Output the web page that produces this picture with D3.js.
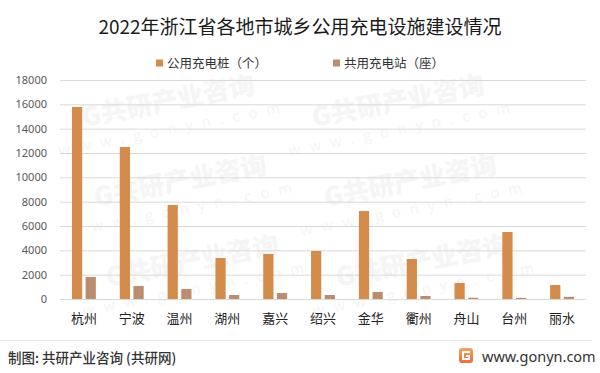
<!DOCTYPE html>
<html lang="zh">
<head>
<meta charset="UTF-8">
<script src="https://d3js.org/d3.v7.min.js"></script>
<title>2022年浙江省各地市城乡公用充电设施建设情况</title>
<style>
  body { margin: 0; background: #fff; font-family: "Noto Sans CJK SC", "Noto Sans", sans-serif; }
  svg { display: block; }
</style>
</head>
<body>
<svg id="chart" width="600" height="373"></svg>
<script>
// data
const cities = ["杭州", "宁波", "温州", "湖州", "嘉兴", "绍兴", "金华", "衢州", "舟山", "台州", "丽水"];
const piles = [15780, 12490, 7730, 3370, 3700, 3950, 7230, 3290, 1320, 5510, 1150];
const stations = [1810, 1070, 820, 330, 490, 330, 580, 250, 100, 90, 180];
const seriesNames = ["公用充电桩（个）", "共用充电站（座）"];
const seriesColors = ["#d48c4c", "#bb8d6e"];
const yTicks = [0, 2000, 4000, 6000, 8000, 10000, 12000, 14000, 16000, 18000];

const svg = d3.select("#chart");
const W = 600, H = 373;
const margin = { top: 80, right: 14, bottom: 74, left: 60 };
const innerW = W - margin.left - margin.right;
const innerH = H - margin.top - margin.bottom;

// faint watermarks in the background
const wm = svg.append("g").attr("fill", "#f5f5f5");
[170, 400].forEach(cx => {
  for (let r = 0; r < 3; r++) {
    const x = cx + r * 12, y = 110 + r * 80;
    const g = wm.append("g").attr("transform", `translate(${x},${y}) rotate(-11)`);
    g.append("text").attr("text-anchor", "middle").attr("font-size", 26)
      .attr("font-weight", 900).text("G共研产业咨询");
    g.append("text").attr("text-anchor", "middle").attr("y", 24).attr("font-size", 15)
      .attr("letter-spacing", 9).text("www.gonyn.com");
  }
});

// title
svg.append("text")
  .attr("x", W / 2).attr("y", 34)
  .attr("text-anchor", "middle")
  .attr("font-size", 19).attr("fill", "#1a1a1a")
  .text("2022年浙江省各地市城乡公用充电设施建设情况");

// legend
const legendX = [156, 333];
seriesNames.forEach((name, i) => {
  const lg = svg.append("g").attr("transform", `translate(${legendX[i]},59)`);
  lg.append("rect").attr("width", 7).attr("height", 7).attr("y", 0.5).attr("fill", seriesColors[i]);
  lg.append("text").attr("x", 11).attr("y", 8.5)
    .attr("font-size", 12.5).attr("fill", "#333").text(name);
});

const g = svg.append("g").attr("transform", `translate(${margin.left},${margin.top})`);

const x = d3.scaleBand().domain(cities).range([0, innerW]).paddingInner(0.5).paddingOuter(0.25);
const xs = d3.scaleBand().domain([0, 1]).range([0, x.bandwidth()]).paddingInner(0.25);
const y = d3.scaleLinear().domain([0, 18000]).range([innerH, 0]);

// gridlines + y labels
g.append("g")
  .call(d3.axisLeft(y).tickValues(yTicks).tickSize(-innerW).tickPadding(13).tickFormat(d3.format("d")))
  .call(a => a.select(".domain").remove())
  .call(a => a.selectAll(".tick line").attr("stroke", "#d9d9d9").attr("stroke-width", 1))
  .call(a => a.selectAll(".tick text").attr("font-size", 11).attr("fill", "#595959")
    .attr("font-family", "'Noto Sans', sans-serif"));

// bars
const rows = cities.map((c, i) => ({ city: c, vals: [piles[i], stations[i]] }));
const grp = g.selectAll(".grp").data(rows).join("g")
  .attr("transform", d => `translate(${x(d.city)},0)`);
grp.selectAll("rect").data(d => d.vals).join("rect")
  .attr("x", (d, i) => xs(i))
  .attr("width", xs.bandwidth())
  .attr("y", d => y(d))
  .attr("height", d => innerH - y(d))
  .attr("fill", (d, i) => seriesColors[i]);

// x labels
g.append("g").attr("transform", `translate(0,${innerH})`)
  .call(d3.axisBottom(x).tickSize(0).tickPadding(15))
  .call(a => a.select(".domain").remove())
  .call(a => a.selectAll(".tick text").attr("font-size", 13).attr("fill", "#222")
    .attr("font-family", "'Noto Sans CJK SC', sans-serif"));

// footer
svg.append("line").attr("x1", 0).attr("x2", 592).attr("y1", 340.5).attr("y2", 340.5)
  .attr("stroke", "#e6e6e6");
svg.append("text").attr("x", 8).attr("y", 363)
  .attr("font-size", 13.5).attr("font-weight", 500).attr("fill", "#333")
  .text("制图: 共研产业咨询 (共研网)");

const defs = svg.append("defs");
const lgGrad = defs.append("linearGradient").attr("id", "logo").attr("x1", 0).attr("y1", 0).attr("x2", 0).attr("y2", 1);
lgGrad.append("stop").attr("offset", "0%").attr("stop-color", "#f8a25a");
lgGrad.append("stop").attr("offset", "100%").attr("stop-color", "#ef6a3c");
const logo = svg.append("g").attr("transform", "translate(459,348)");
logo.append("rect").attr("width", 14).attr("height", 15).attr("rx", 3).attr("fill", "url(#logo)");
logo.append("path").attr("d", "M11 4 H4 V11 H10 V8 H7").attr("fill", "none")
  .attr("stroke", "#fff").attr("stroke-width", 2);
svg.append("text").attr("x", 482).attr("y", 361.5)
  .attr("font-size", 14.5).attr("fill", "#333").attr("font-family", "'Noto Sans', sans-serif")
  .text("www.gonyn.com");
</script>
</body>
</html>
